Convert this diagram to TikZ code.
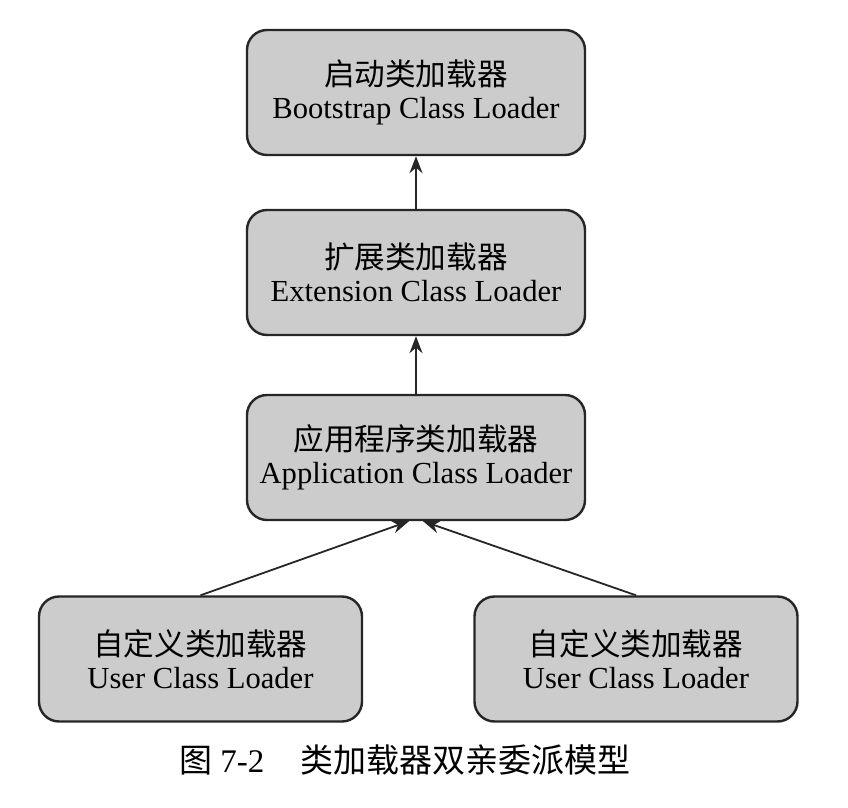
\documentclass[tikz,border=0pt]{standalone}
\usepackage{fontspec}
\setmainfont{Liberation Serif}
\newfontfamily\cjk{Noto Sans CJK SC}
\usetikzlibrary{arrows.meta}

\tikzset{
	loader/.style={draw=black!85, line width=1.2pt, fill=black!20,
		rounded corners=10pt, minimum height=62.5pt, align=center,
		inner sep=0pt, font=\fontsize{15.3}{16.5}\selectfont},
	wide/.style={loader, minimum width=169pt},
	user/.style={loader, minimum width=161.5pt},
	delegate/.style={->, line width=0.9pt, draw=black!85}
}

\begin{document}
\begin{tikzpicture}[x=0.5pt, y=-0.5pt, >={Stealth[length=8.5pt,width=6.5pt]}]
	\useasboundingbox (0,0) rectangle (848,808);

	%% Parent chain
	\node [wide] (boot) at (416,92.5) {{\cjk 启动类加载器}\\Bootstrap Class Loader};
	\node [wide] (ext) at (416,272.5) {{\cjk 扩展类加载器}\\Extension Class Loader};
	\node [wide] (app) at (416,457.5) {{\cjk 应用程序类加载器}\\Application Class Loader};

	%% User loaders
	\node [user] (userl) at (200.5,659) {{\cjk 自定义类加载器}\\User Class Loader};
	\node [user] (userr) at (636,659) {{\cjk 自定义类加载器}\\User Class Loader};

	%% Delegation
	\draw [delegate] (ext.north) -- (boot.south);
	\draw [delegate] (app.north) -- (ext.south);
	\draw [delegate] (userl.north) -- ([xshift=-3.5pt]app.south);
	\draw [delegate] (userr.north) -- ([xshift=3.5pt]app.south);

	%% Caption
	\node [font=\fontsize{16.5}{18}\selectfont] (caption) at (405,760)
		{{\cjk 图}\ 7-2\hspace{1.1em}{\cjk 类加载器双亲委派模型}};
\end{tikzpicture}
\end{document}
